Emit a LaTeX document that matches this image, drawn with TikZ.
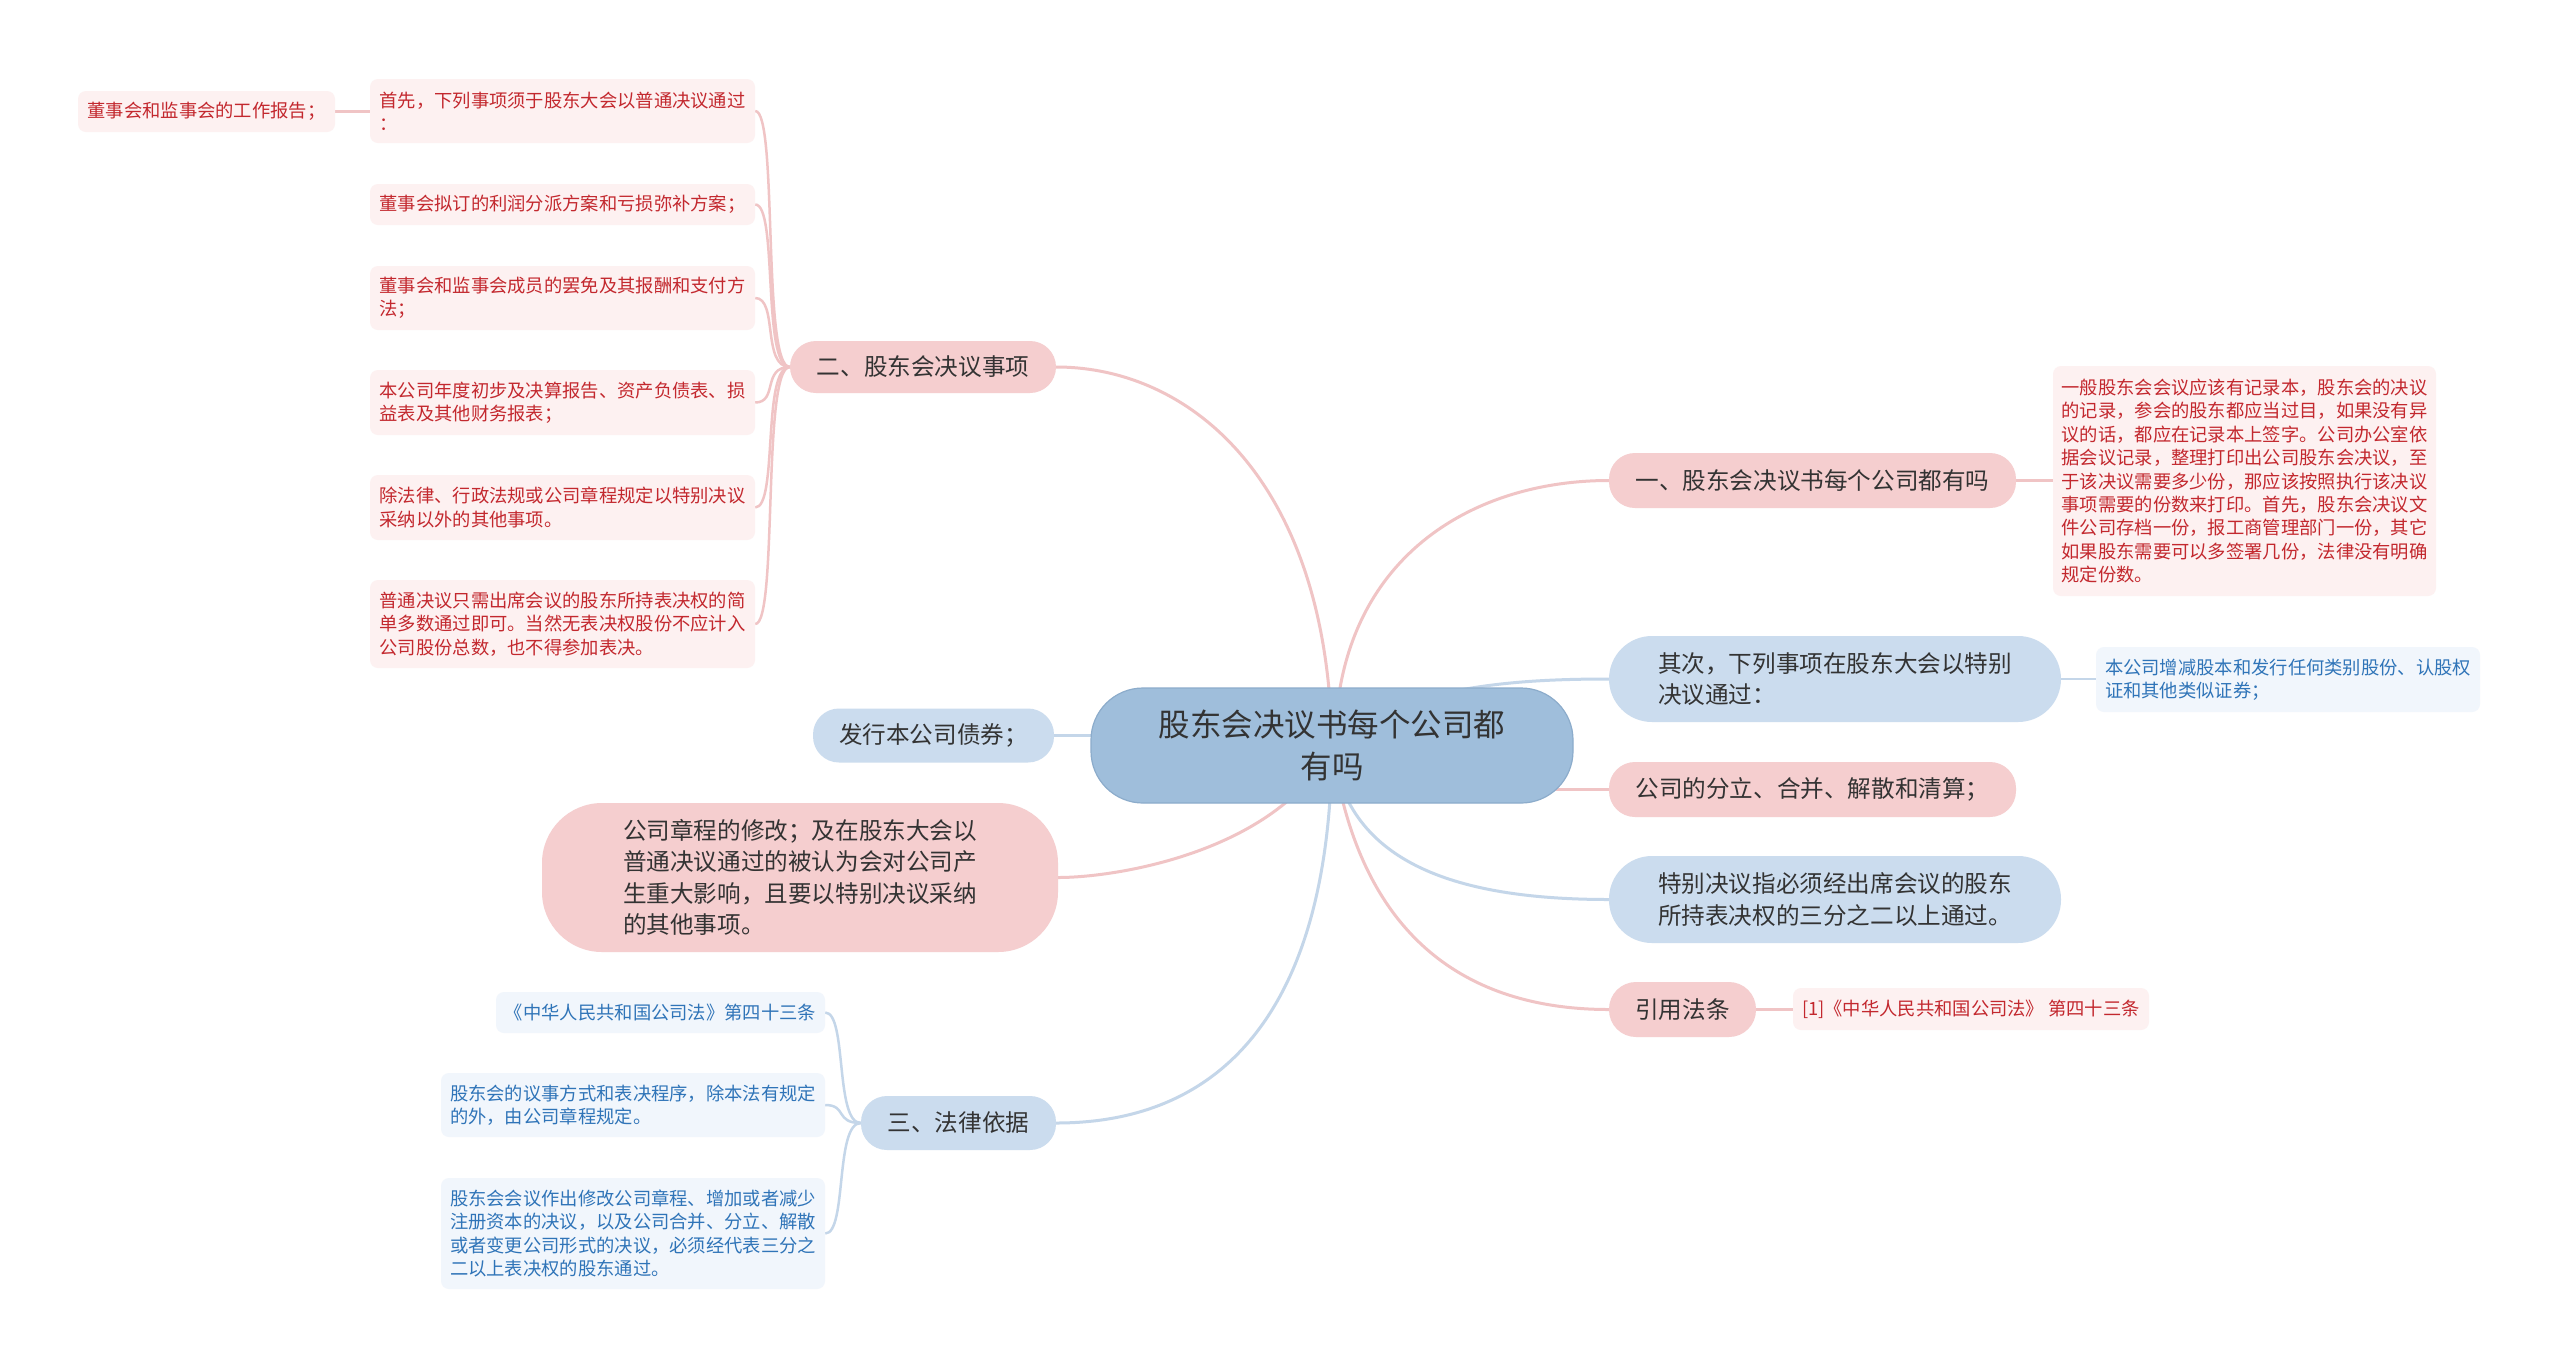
\documentclass[tikz,border=0pt]{standalone}
\usepackage{fontspec}
\setmainfont{Noto Sans CJK SC}
\usetikzlibrary{backgrounds}
\definecolor{ctrfill}{HTML}{9FBEDB}
\definecolor{ctrdraw}{HTML}{8CACCB}
\definecolor{pinkfill}{HTML}{F5CECF}
\definecolor{bluefill}{HTML}{CBDCEE}
\definecolor{pleaf}{HTML}{FDF1F1}
\definecolor{bleaf}{HTML}{F1F6FC}
\definecolor{ptext}{HTML}{C3282E}
\definecolor{btext}{HTML}{2F74B8}
\definecolor{dtext}{HTML}{333333}
\definecolor{pline}{HTML}{F0C4C5}
\definecolor{bline}{HTML}{C4D6E9}
\tikzset{
  base/.style={inner sep=0pt, anchor=center},
  ctrnode/.style={base, fill=ctrfill, draw=ctrdraw, line width=1.2pt, rounded corners=52pt, text=dtext, font=\fontsize{31.5pt}{42pt}\selectfont, align=center},
  pbr/.style={base, fill=pinkfill, rounded corners=26pt, text=dtext, font=\fontsize{23.6pt}{31.5pt}\selectfont},
  bbr/.style={base, fill=bluefill, rounded corners=26pt, text=dtext, font=\fontsize{23.6pt}{31.5pt}\selectfont},
  pleafs/.style={base, fill=pleaf, rounded corners=8pt, text=ptext, font=\fontsize{18.3pt}{23.4pt}\selectfont, align=left},
  bleafs/.style={base, fill=bleaf, rounded corners=8pt, text=btext, font=\fontsize{18.3pt}{23.4pt}\selectfont, align=left},
  pedge/.style={draw=pline, line width=3pt},
  bedge/.style={draw=bline, line width=3pt},
  pledge/.style={draw=pline, line width=2.5pt},
  bledge/.style={draw=bline, line width=2.5pt}
}
\begin{document}
\begin{tikzpicture}[x=1pt, y=-1pt]
\useasboundingbox (0,0) rectangle (2560,1369);

% center
\node[ctrnode, minimum width=482, minimum height=115] (ctr) at (1332,745.5) {股东会决议书每个公司都\\有吗};

% left branch 二
\node[pbr, minimum width=266, minimum height=52] (b2) at (923,367) {二、股东会决议事项};
\node[pleafs, minimum width=257, minimum height=41] (l0) at (206.5,111.5) {董事会和监事会的工作报告；};
\node[pleafs, minimum width=385, minimum height=64] (l1) at (562.5,111) {首先，下列事项须于股东大会以普通决议通过\\：};
\node[pleafs, minimum width=385, minimum height=41] (l2) at (562.5,204.5) {董事会拟订的利润分派方案和亏损弥补方案；};
\node[pleafs, minimum width=385, minimum height=64] (l3) at (562.5,298) {董事会和监事会成员的罢免及其报酬和支付方\\法；};
\node[pleafs, minimum width=385, minimum height=65] (l4) at (562.5,402.5) {本公司年度初步及决算报告、资产负债表、损\\益表及其他财务报表；};
\node[pleafs, minimum width=385, minimum height=65] (l5) at (562.5,507.5) {除法律、行政法规或公司章程规定以特别决议\\采纳以外的其他事项。};
\node[pleafs, minimum width=385, minimum height=88] (l6) at (562.5,624) {普通决议只需出席会议的股东所持表决权的简\\单多数通过即可。当然无表决权股份不应计入\\公司股份总数，也不得参加表决。};

% left others
\node[bbr, minimum width=241, minimum height=54] (fx) at (933.5,735.5) {发行本公司债券；};
\node[pbr, rounded corners=60pt, minimum width=516, minimum height=149, align=left] (zc) at (800,877.5) {公司章程的修改；及在股东大会以\\普通决议通过的被认为会对公司产\\生重大影响，且要以特别决议采纳\\的其他事项。};

% branch 三
\node[bbr, minimum width=195, minimum height=54] (b3) at (958.5,1123) {三、法律依据};
\node[bleafs, minimum width=329, minimum height=41] (d1) at (660.5,1012.5) {《中华人民共和国公司法》第四十三条};
\node[bleafs, minimum width=384, minimum height=64] (d2) at (633,1105) {股东会的议事方式和表决程序，除本法有规定\\的外，由公司章程规定。};
\node[bleafs, minimum width=384, minimum height=111] (d3) at (633,1233.5) {股东会会议作出修改公司章程、增加或者减少\\注册资本的决议，以及公司合并、分立、解散\\或者变更公司形式的决议，必须经代表三分之\\二以上表决权的股东通过。};

% right side
\node[pbr, minimum width=407, minimum height=55] (b1) at (1812.5,480.5) {一、股东会决议书每个公司都有吗};
\node[pleafs, minimum width=383, minimum height=230] (r1) at (2244.5,481) {一般股东会会议应该有记录本，股东会的决议\\的记录，参会的股东都应当过目，如果没有异\\议的话，都应在记录本上签字。公司办公室依\\据会议记录，整理打印出公司股东会决议，至\\于该决议需要多少份，那应该按照执行该决议\\事项需要的份数来打印。首先，股东会决议文\\件公司存档一份，报工商管理部门一份，其它\\如果股东需要可以多签署几份，法律没有明确\\规定份数。};
\node[bbr, rounded corners=43pt, minimum width=452, minimum height=86, align=left] (qc) at (1835,679) {其次，下列事项在股东大会以特别\\决议通过：};
\node[bleafs, minimum width=384, minimum height=65] (r2) at (2288,679.5) {本公司增减股本和发行任何类别股份、认股权\\证和其他类似证券；};
\node[pbr, minimum width=407, minimum height=55] (fl) at (1812.5,789.5) {公司的分立、合并、解散和清算；};
\node[bbr, rounded corners=43pt, minimum width=452, minimum height=87, align=left] (tb) at (1835,899.5) {特别决议指必须经出席会议的股东\\所持表决权的三分之二以上通过。};
\node[pbr, rounded corners=27pt, minimum width=147, minimum height=55] (yy) at (1682.5,1009.5) {引用法条};
\node[pleafs, minimum width=356, minimum height=42] (r3) at (1971,1009) {[1]《中华人民共和国公司法》 第四十三条};

\begin{scope}[on background layer]
\fill[white] (0,0) rectangle (2560,1369);
% center connectors
\draw[pedge] (ctr.center) .. controls (1328,480) and (1190,367) .. (b2.east);
\draw[pedge] ([xshift=3pt]ctr.center) .. controls (1336,560) and (1470,480.5) .. (b1.west);
\draw[bedge] (ctr.center) .. controls (1400,685) and (1520,679) .. (qc.west);
\draw[bedge] (fx.east) -- (fx.east -| ctr.center);
\draw[pedge] (fl.west) -- (fl.west -| ctr.center);
\draw[pedge] (ctr.center) .. controls (1280,850) and (1120,877.5) .. (zc.east);
\draw[bedge] (ctr.center) .. controls (1330,1000) and (1230,1123) .. (b3.east);
\draw[bedge] (ctr.center) .. controls (1345,860) and (1450,899.5) .. (tb.west);
\draw[pedge] (ctr.center) .. controls (1360,950) and (1480,1009.5) .. (yy.west);
% branch 二 leaves
\foreach \n in {l1,l2,l3,l4,l5,l6}
  \draw[pledge] (\n.east) .. controls +(23,0) and +(-28,0) .. (b2.west);
\draw[pledge] (l0.east) -- (l1.west |- l0.east);
% branch 三 leaves
\foreach \n in {d1,d2,d3}
  \draw[bledge] (\n.east) .. controls +(22,0) and +(-26,0) .. (b3.west);
% right leaves
\draw[pledge] (b1.east) -- (r1.west |- b1.east);
\draw[bledge] (qc.east) -- (r2.west |- qc.east);
\draw[pledge] (yy.east) -- (r3.west |- yy.east);
\end{scope}
\end{tikzpicture}
\end{document}
